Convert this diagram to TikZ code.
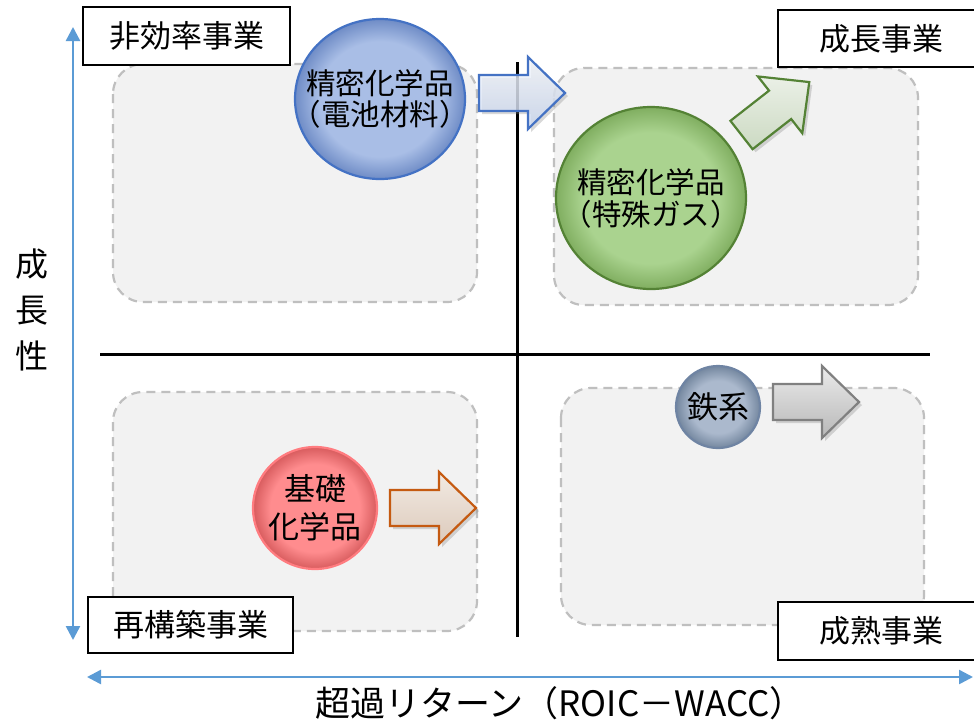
\documentclass[tikz,border=0pt]{standalone}
\usepackage{fontspec}
\setmainfont{Noto Sans CJK JP}
\usetikzlibrary{arrows.meta,shapes.geometric,shadows}

\definecolor{axisblue}{HTML}{5B9BD5}
\definecolor{dashgray}{HTML}{BFBFBF}
\definecolor{panelfill}{HTML}{F2F2F2}
\definecolor{bin}{HTML}{A9BEE6}
\definecolor{bout}{HTML}{6F8CC6}
\definecolor{bdraw}{HTML}{4472C4}
\definecolor{gin}{HTML}{AAD38F}
\definecolor{gout}{HTML}{80AE60}
\definecolor{gdraw}{HTML}{548235}
\definecolor{rin}{HTML}{FF8C8E}
\definecolor{rout}{HTML}{D85C5E}
\definecolor{rdraw}{HTML}{FF7C80}
\definecolor{sin}{HTML}{ABB9CD}
\definecolor{sout}{HTML}{74879F}
\definecolor{sdraw}{HTML}{6F84A3}
\definecolor{odraw}{HTML}{C55A11}
\definecolor{otop}{HTML}{F2EAE3}
\definecolor{obot}{HTML}{DCCABB}

\pgfdeclareradialshading{ballblue}{\pgfpoint{0bp}{0bp}}{color(0bp)=(bin); color(18bp)=(bin); color(25bp)=(bout); color(50bp)=(bout)}
\pgfdeclareradialshading{ballgreen}{\pgfpoint{0bp}{0bp}}{color(0bp)=(gin); color(18bp)=(gin); color(25bp)=(gout); color(50bp)=(gout)}
\pgfdeclareradialshading{ballred}{\pgfpoint{0bp}{0bp}}{color(0bp)=(rin); color(18bp)=(rin); color(25bp)=(rout); color(50bp)=(rout)}
\pgfdeclareradialshading{ballslate}{\pgfpoint{0bp}{0bp}}{color(0bp)=(sin); color(16bp)=(sin); color(25bp)=(sout); color(50bp)=(sout)}

\def\barpath{(0,-18) -- (49,-18) -- (49,-36) -- (86,0) -- (49,36) -- (49,18) -- (0,18) -- cycle}

\tikzset{
  panel/.style={draw=dashgray, fill=panelfill, line width=2.2pt, dash pattern=on 9pt off 6pt, rounded corners=30pt},
  quadlabel/.style={draw=black, fill=white, line width=1.4pt, inner sep=0pt, font=\fontsize{31}{36}\selectfont},
  ball/.style={ellipse, draw, line width=2.2pt, inner sep=0pt},
  balltext/.style={align=center, inner sep=0pt},
  barrow/.style={line width=2.2pt, line join=miter, drop shadow={shadow xshift=3pt, shadow yshift=-3pt, opacity=0.3}},
  axisarrow/.style={draw=axisblue, line width=2.5pt, {Triangle[length=14pt,width=14pt]}-{Triangle[length=14pt,width=14pt]}},
}

\begin{document}
\begin{tikzpicture}[x=1pt,y=-1pt]
\useasboundingbox (0,0) rectangle (974,724);
\fill[white] (0,0) rectangle (974,724);

% quadrant panels
\draw[panel] (113,64) rectangle (477,302);
\draw[panel] (554,68) rectangle (918,305);
\draw[panel] (113,392) rectangle (477,631);
\draw[panel] (561,388) rectangle (924,625);

% axes
\coordinate (vtop) at (517,62);
\coordinate (vbot) at (517,637);
\coordinate (hl) at (100,354);
\coordinate (hr) at (930,354);
\draw[line width=3pt] (vtop) -- (vbot);
\draw[line width=3pt] (hl) -- (hr);

% blue axis arrows
\coordinate (ytop) at (73,27);
\coordinate (ybot) at (73,640);
\coordinate (xl) at (87,677);
\coordinate (xr) at (973,677);
\draw[axisarrow] (ytop) -- (ybot);
\draw[axisarrow] (xl) -- (xr);

% axis titles
\node[font=\fontsize{33}{46}\selectfont, align=center] (ylab) at (32,310) {成\\長\\性};
\node[font=\fontsize{35}{40}\selectfont] (xlab) at (560,703) {超過リターン（ROIC－WACC）};

% quadrant labels
\node[quadlabel, minimum width=207pt, minimum height=58pt] (q1) at (186.5,36) {非効率事業};
\node[quadlabel, minimum width=206pt, minimum height=57pt] (q2) at (881,38.5) {成長事業};
\node[quadlabel, minimum width=205pt, minimum height=56pt] (q3) at (190.5,625) {再構築事業};
\node[quadlabel, minimum width=206pt, minimum height=58pt] (q4) at (881,631) {成熟事業};

% block arrows
\draw[barrow, draw=bdraw, top color=white!80!bdraw!25, bottom color=bdraw!30, fill opacity=0.8, shift={(479,93)}] \barpath;
\draw[barrow, draw=gdraw, top color=gdraw!12, bottom color=gdraw!30, shift={(741.5,135)}, rotate=38] \barpath;
\draw[barrow, draw=odraw, top color=otop, bottom color=obot, shift={(390,508)}] \barpath;
\draw[barrow, draw=black!50, top color=black!8, bottom color=black!28, shift={(773,402)}] \barpath;

% circles
\node[ball, draw=bdraw, shading=ballblue, minimum width=170pt, minimum height=160pt] (c1) at (380,99) {};
\node[balltext, font=\fontsize{29.5}{31}\selectfont] (c1t) at (c1.center) {精密化学品\\（電池材料）};
\node[ball, draw=gdraw, shading=ballgreen, minimum width=190pt, minimum height=182pt] (c2) at (651,198) {};
\node[balltext, font=\fontsize{29.5}{32}\selectfont] (c2t) at (c2.center) {精密化学品\\（特殊ガス）};
\node[ball, draw=rdraw, shading=ballred, minimum width=124pt, minimum height=122pt] (c3) at (315,508) {};
\node[balltext, font=\fontsize{31}{38}\selectfont] (c3t) at (c3.center) {基礎\\化学品};
\node[ball, draw=sdraw, shading=ballslate, minimum width=84pt, minimum height=82pt] (c4) at (718,407) {};
\node[balltext, font=\fontsize{31}{36}\selectfont] (c4t) at (c4.center) {鉄系};
\end{tikzpicture}
\end{document}
